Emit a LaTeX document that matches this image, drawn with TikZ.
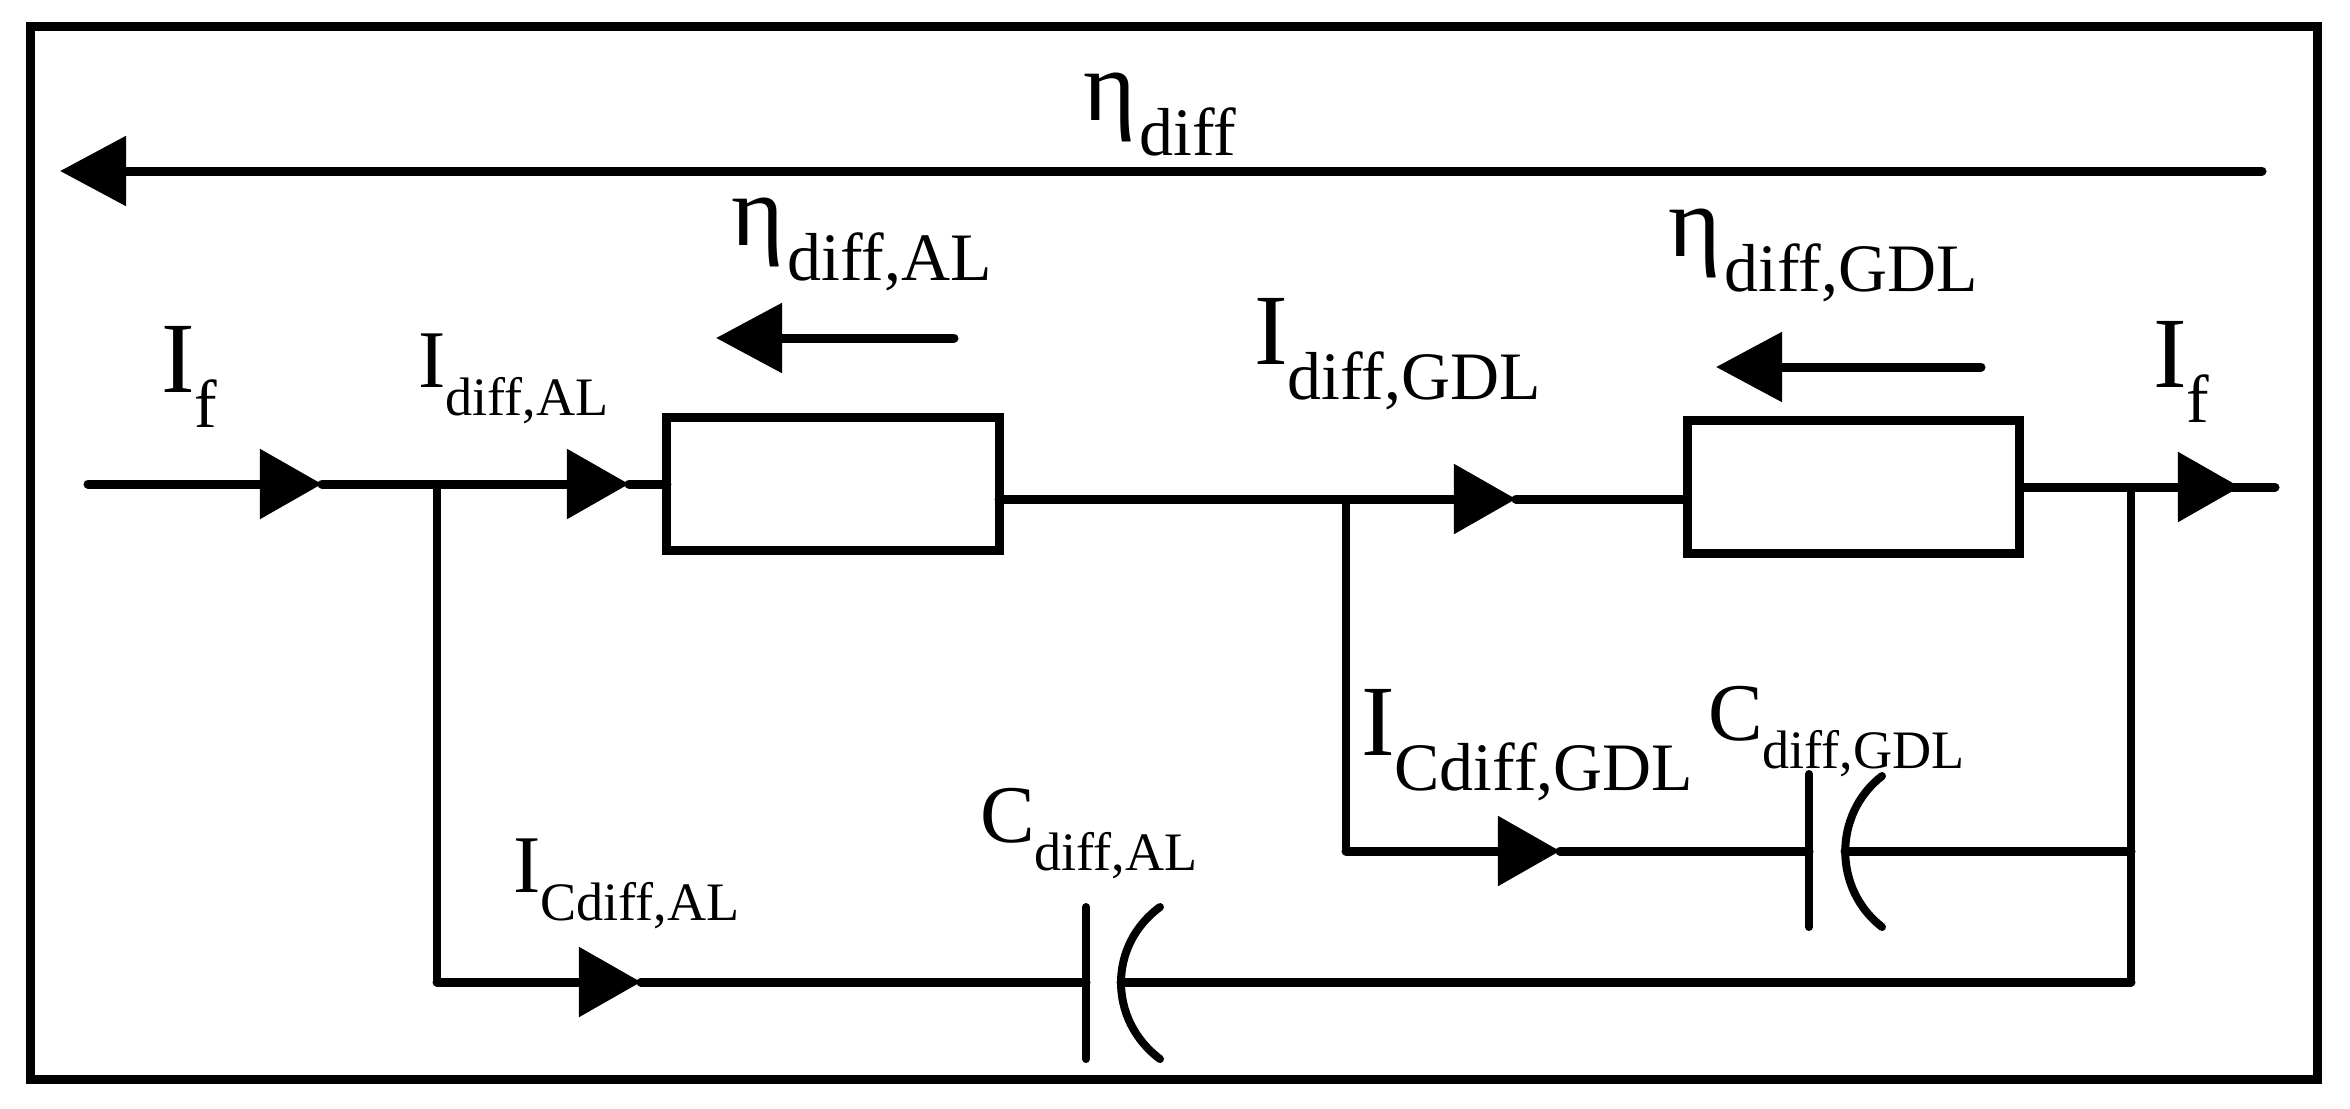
\documentclass[tikz,border=0pt]{standalone}
\usepackage{fontspec}
\setmainfont{Liberation Serif}
\usetikzlibrary{arrows.meta}
\newcommand{\biglab}[2]{{\fontsize{28.7}{30}\selectfont #1}\raisebox{-10pt}{\fontsize{19.3}{20}\selectfont #2}}
\newcommand{\midlab}[2]{{\fontsize{23.3}{25}\selectfont #1}\raisebox{-8pt}{\fontsize{15.4}{17}\selectfont #2}}
\tikzset{
  wire/.style={line width=0.09cm,line cap=round},
  thinwire/.style={line width=0.08cm,line cap=round},
  flow/.style={wire,-{Triangle[length=0.62cm,width=0.68cm]}},
  drop/.style={wire,-{Triangle[length=0.66cm,width=0.68cm]}},
  resistor/.style={draw,line width=0.09cm,inner sep=0pt,outer sep=0pt,minimum width=3.32cm,minimum height=1.32cm},
  frame/.style={draw,line width=0.09cm,inner sep=0pt,outer sep=0pt,minimum width=22.86cm,minimum height=10.52cm},
  lab/.style={anchor=base west,inner sep=0pt,outer sep=0pt}
}
\begin{document}
\begin{tikzpicture}[x=0.01cm,y=-0.01cm]
  \useasboundingbox (0,0) rectangle (2350,1108);

  \node[frame] (outer) at (1174,553) {};

  % overall drop
  \coordinate (dtail) at (2262,171);
  \coordinate (dtip) at (60,171);
  \draw[drop] (dtail) -- (dtip);
  \node[lab] (etadiff) at (1083,120) {\biglab{η}{\kern1pt diff}};

  % upper branch
  \node[resistor] (boxal) at (833,484) {};
  \node[resistor] (boxgdl) at (1853.5,487) {};
  \coordinate (in) at (88,484);
  \coordinate (ifin) at (322,484);
  \coordinate (jal) at (437,484);
  \coordinate (ifal) at (629,484);
  \coordinate (jgdl) at (1346,499);
  \coordinate (ifgdl) at (1516,499);
  \coordinate (jout) at (2131,487);
  \coordinate (ifout) at (2240,487);
  \coordinate (out) at (2275,487);
  \draw[flow] (in) -- (ifin);
  \draw[wire] (ifin) -- (jal);
  \draw[flow] (jal) -- (ifal);
  \draw[wire] (ifal) -- (boxal.west);
  \draw[wire] (boxal.east |- jgdl) -- (jgdl);
  \draw[flow] (jgdl) -- (ifgdl);
  \draw[wire] (ifgdl) -- (boxgdl.west |- jgdl);
  \draw[wire] (boxgdl.east |- jout) -- (jout);
  \draw[wire] (jout) -- (out);
  \draw[flow] (jout) -- (ifout);

  % drops over the two boxes
  \coordinate (altail) at (954,338);
  \coordinate (altip) at (716,338);
  \draw[drop] (altail) -- (altip);
  \coordinate (gdltail) at (1981,367);
  \coordinate (gdltip) at (1716,367);
  \draw[drop] (gdltail) -- (gdltip);

  % lower branch
  \coordinate (alcorner) at (437,982);
  \coordinate (ifcal) at (641,982);
  \coordinate (platea) at (1086,982);
  \coordinate (arca) at (1121,982);
  \coordinate (botright) at (2131,982);
  \coordinate (plateat) at (1086,907);
  \coordinate (plateab) at (1086,1059);
  \coordinate (arcat) at (1160,907);
  \coordinate (arcab) at (1160,1059);
  \draw[thinwire] (jal) -- (alcorner);
  \draw[flow] (alcorner) -- (ifcal);
  \draw[wire] (ifcal) -- (platea);
  \draw[thinwire] (plateat) -- (plateab);
  \draw[thinwire] (arcat) .. controls (1108,945) and (1108,1020) .. (arcab);
  \draw[wire] (arca) -- (botright);
  \draw[thinwire] (jout) -- (botright);

  % inner branch
  \coordinate (gdlcorner) at (1346,851);
  \coordinate (ifcgdl) at (1560,851);
  \coordinate (plateb) at (1809,851);
  \coordinate (arcb) at (1845,851);
  \coordinate (innerright) at (2131,851);
  \coordinate (platebt) at (1809,774);
  \coordinate (platebb) at (1809,927);
  \coordinate (arcbt) at (1882,776);
  \coordinate (arcbb) at (1882,927);
  \draw[thinwire] (jgdl) -- (gdlcorner);
  \draw[flow] (gdlcorner) -- (ifcgdl);
  \draw[wire] (ifcgdl) -- (plateb);
  \draw[thinwire] (platebt) -- (platebb);
  \draw[thinwire] (arcbt) .. controls (1833,814) and (1833,889) .. (arcbb);
  \draw[wire] (arcb) -- (innerright);

  % labels
  \node[lab] (ifleft) at (161,392) {\biglab{I}{f}};
  \node[lab] (idiffal) at (418,387) {\midlab{I}{diff,AL}};
  \node[lab] (etaal) at (731,245) {\biglab{η}{\kern1pt diff,AL}};
  \node[lab] (etagdl) at (1668,256) {\biglab{η}{\kern1pt diff,GDL}};
  \node[lab] (idiffgdl) at (1254,364) {\biglab{I}{diff,GDL}};
  \node[lab] (ifright) at (2153,387) {\biglab{I}{f}};
  \node[lab] (icgdl) at (1361,755) {\biglab{I}{Cdiff,GDL}};
  \node[lab] (cgdl) at (1708,740) {\midlab{C}{diff,GDL}};
  \node[lab] (cal) at (980,842) {\midlab{C}{diff,AL}};
  \node[lab] (ical) at (513,892) {\midlab{I}{Cdiff,AL}};
\end{tikzpicture}
\end{document}
